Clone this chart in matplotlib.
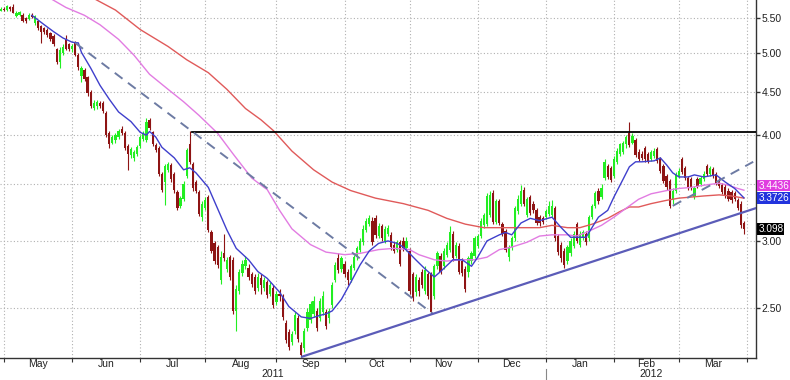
import numpy as np
import pandas as pd
import matplotlib
matplotlib.use('Agg')
import matplotlib.pyplot as plt
from matplotlib.ticker import NullLocator, NullFormatter

plt.rcParams['font.family'] = ['Liberation Sans', 'DejaVu Sans']

# daily candles, one per weekday starting 2011-04-29
opens = [5.61, 5.64, 5.62, 5.66, 5.66, 5.53, 5.55, 5.55, 5.50, 5.49,
         5.55, 5.43, 5.45, 5.38, 5.35, 5.33, 5.28, 5.24, 5.05, 4.88,
         5.00, 5.20, 5.12, 5.05, 5.14, 4.98, 4.70, 4.78, 4.68, 4.50,
         4.31, 4.33, 4.37, 4.37, 4.25, 4.02, 3.92, 3.95, 3.98, 4.07,
         4.02, 3.88, 3.79, 3.76, 3.80, 3.88, 3.96, 3.95, 4.17, 4.03,
         3.89, 3.86, 3.60, 3.52, 3.64, 3.69, 3.60, 3.43, 3.30, 3.36,
         3.58, 3.90, 3.70, 3.52, 3.43, 3.20, 3.28, 3.38, 3.07, 2.98,
         2.95, 2.70, 2.90, 2.78, 2.87, 2.85, 2.48, 2.62, 2.75, 2.80,
         2.79, 2.74, 2.72, 2.64, 2.71, 2.64, 2.68, 2.60, 2.64, 2.54,
         2.60, 2.58, 2.40, 2.34, 2.28, 2.35, 2.43, 2.26, 2.24, 2.37,
         2.42, 2.46, 2.48, 2.43, 2.47, 2.47, 2.43, 2.52, 2.70, 2.86,
         2.78, 2.82, 2.76, 2.70, 2.79, 2.87, 2.93, 2.99, 3.09, 3.14,
         3.17, 3.19, 3.04, 3.12, 3.00, 3.06, 3.05, 2.97, 2.93, 2.99,
         3.00, 2.94, 2.92, 2.74, 2.61, 2.70, 2.76, 2.62, 2.74, 2.74,
         2.58, 2.80, 2.88, 2.80, 2.89, 2.93, 3.06, 2.88, 2.96, 2.84,
         2.78, 2.76, 2.84, 2.88, 2.96, 3.04, 3.13, 3.14, 3.22, 3.42,
         3.16, 3.34, 3.14, 3.08, 2.87, 2.95, 3.02, 3.25, 3.32, 3.45,
         3.22, 3.38, 3.32, 3.26, 3.20, 3.19, 3.20, 3.23, 3.22, 3.28,
         3.04, 2.97, 2.92, 2.84, 2.90, 2.96, 3.14, 2.97, 3.03, 3.06,
         3.02, 3.20, 3.30, 3.44, 3.38, 3.56, 3.68, 3.66, 3.58, 3.72,
         3.80, 3.82, 3.90, 4.02, 3.92, 3.95, 3.82, 3.80, 3.86, 3.80,
         3.75, 3.78, 3.85, 3.75, 3.68, 3.58, 3.53, 3.35, 3.44, 3.58,
         3.75, 3.66, 3.56, 3.55, 3.38, 3.55, 3.50, 3.55, 3.68, 3.60,
         3.65, 3.60, 3.54, 3.49, 3.47, 3.44, 3.43, 3.42, 3.35, 3.32,
         3.15]
highs = [5.66, 5.66, 5.70, 5.68, 5.71, 5.60, 5.61, 5.57, 5.52, 5.57,
         5.57, 5.55, 5.47, 5.40, 5.37, 5.35, 5.30, 5.26, 5.07, 5.08,
         5.12, 5.25, 5.14, 5.12, 5.17, 5.00, 4.83, 4.80, 4.70, 4.52,
         4.40, 4.40, 4.39, 4.39, 4.27, 4.04, 4.00, 4.02, 4.07, 4.10,
         4.04, 3.90, 3.87, 3.84, 3.89, 4.00, 4.05, 4.19, 4.19, 4.05,
         3.92, 3.88, 3.62, 3.70, 3.72, 3.71, 3.62, 3.45, 3.39, 3.53,
         3.86, 4.04, 3.72, 3.54, 3.45, 3.34, 3.38, 3.40, 3.09, 3.00,
         2.97, 2.92, 3.06, 2.87, 2.89, 2.87, 2.66, 2.78, 2.85, 2.88,
         2.82, 2.76, 2.74, 2.75, 2.74, 2.72, 2.70, 2.68, 2.66, 2.62,
         2.63, 2.60, 2.42, 2.36, 2.35, 2.47, 2.45, 2.28, 2.37, 2.50,
         2.55, 2.58, 2.50, 2.57, 2.62, 2.49, 2.50, 2.68, 2.83, 2.90,
         2.88, 2.84, 2.78, 2.82, 2.89, 2.96, 3.02, 3.13, 3.19, 3.22,
         3.20, 3.22, 3.15, 3.14, 3.12, 3.13, 3.07, 2.99, 3.01, 3.01,
         3.03, 3.03, 2.94, 2.76, 2.74, 2.72, 2.78, 2.80, 2.76, 2.76,
         2.82, 2.92, 2.90, 2.94, 2.99, 3.12, 3.08, 2.99, 2.98, 2.86,
         2.80, 2.88, 2.92, 3.04, 3.06, 3.19, 3.24, 3.42, 3.44, 3.45,
         3.36, 3.36, 3.16, 3.10, 2.97, 3.04, 3.30, 3.40, 3.49, 3.47,
         3.38, 3.40, 3.34, 3.28, 3.22, 3.21, 3.27, 3.34, 3.35, 3.30,
         3.06, 2.99, 2.94, 2.97, 3.02, 3.08, 3.16, 3.08, 3.09, 3.08,
         3.22, 3.32, 3.44, 3.46, 3.50, 3.75, 3.70, 3.68, 3.78, 3.86,
         3.92, 3.94, 4.00, 4.14, 4.02, 3.97, 3.85, 3.83, 3.88, 3.82,
         3.84, 3.86, 3.87, 3.77, 3.70, 3.60, 3.55, 3.46, 3.62, 3.66,
         3.77, 3.68, 3.58, 3.57, 3.48, 3.57, 3.58, 3.63, 3.70, 3.68,
         3.67, 3.62, 3.56, 3.51, 3.50, 3.46, 3.45, 3.44, 3.37, 3.34,
         3.17]
lows = [5.60, 5.60, 5.61, 5.61, 5.57, 5.51, 5.53, 5.44, 5.43, 5.47,
        5.50, 5.40, 5.32, 5.14, 5.27, 5.22, 5.17, 5.10, 4.86, 4.80,
        4.98, 5.04, 5.03, 5.02, 4.96, 4.78, 4.62, 4.64, 4.45, 4.31,
        4.28, 4.30, 4.31, 4.25, 3.98, 3.86, 3.90, 3.92, 3.96, 4.00,
        3.84, 3.64, 3.76, 3.73, 3.78, 3.86, 3.94, 3.93, 4.06, 3.88,
        3.82, 3.58, 3.43, 3.31, 3.62, 3.52, 3.42, 3.26, 3.28, 3.34,
        3.56, 3.70, 3.44, 3.42, 3.21, 3.17, 3.26, 3.07, 2.90, 2.82,
        2.79, 2.67, 2.84, 2.76, 2.70, 2.46, 2.35, 2.60, 2.73, 2.78,
        2.70, 2.65, 2.60, 2.62, 2.60, 2.62, 2.57, 2.58, 2.50, 2.52,
        2.55, 2.42, 2.27, 2.23, 2.26, 2.33, 2.28, 2.19, 2.22, 2.35,
        2.40, 2.44, 2.35, 2.41, 2.45, 2.36, 2.40, 2.50, 2.68, 2.75,
        2.76, 2.72, 2.66, 2.68, 2.77, 2.85, 2.91, 2.97, 3.07, 3.12,
        2.97, 3.02, 3.02, 3.00, 2.98, 3.04, 2.93, 2.90, 2.91, 2.80,
        2.92, 2.92, 2.60, 2.55, 2.58, 2.58, 2.64, 2.60, 2.56, 2.46,
        2.56, 2.78, 2.74, 2.78, 2.87, 2.91, 2.84, 2.86, 2.74, 2.73,
        2.61, 2.72, 2.82, 2.86, 2.94, 3.02, 3.11, 3.12, 3.20, 3.14,
        3.14, 3.13, 3.04, 2.91, 2.84, 2.93, 3.00, 3.23, 3.30, 3.30,
        3.20, 3.22, 3.24, 3.13, 3.12, 3.14, 3.18, 3.21, 3.20, 3.00,
        2.89, 2.83, 2.79, 2.82, 2.88, 2.94, 2.98, 2.95, 3.01, 2.97,
        3.00, 3.18, 3.28, 3.32, 3.36, 3.54, 3.55, 3.52, 3.56, 3.70,
        3.78, 3.80, 3.86, 3.87, 3.90, 3.77, 3.73, 3.74, 3.72, 3.71,
        3.73, 3.76, 3.71, 3.61, 3.51, 3.45, 3.28, 3.32, 3.42, 3.56,
        3.60, 3.54, 3.45, 3.45, 3.36, 3.46, 3.48, 3.53, 3.58, 3.58,
        3.56, 3.49, 3.46, 3.41, 3.37, 3.34, 3.33, 3.34, 3.26, 3.11,
        3.06]
closes = [5.64, 5.62, 5.68, 5.63, 5.58, 5.58, 5.59, 5.46, 5.45, 5.55,
          5.52, 5.53, 5.35, 5.30, 5.30, 5.25, 5.19, 5.12, 4.88, 5.04,
          5.08, 5.06, 5.06, 5.10, 4.98, 4.82, 4.80, 4.66, 4.48, 4.33,
          4.37, 4.38, 4.33, 4.27, 4.00, 3.90, 3.98, 4.00, 4.05, 4.02,
          3.86, 3.80, 3.85, 3.82, 3.87, 3.98, 4.02, 4.15, 4.08, 3.90,
          3.84, 3.60, 3.45, 3.68, 3.70, 3.55, 3.45, 3.28, 3.37, 3.50,
          3.84, 3.72, 3.46, 3.44, 3.23, 3.32, 3.35, 3.09, 2.92, 2.84,
          2.81, 2.87, 2.86, 2.85, 2.72, 2.48, 2.63, 2.76, 2.82, 2.85,
          2.72, 2.67, 2.62, 2.72, 2.66, 2.70, 2.59, 2.66, 2.52, 2.60,
          2.58, 2.44, 2.29, 2.25, 2.33, 2.45, 2.30, 2.20, 2.35, 2.47,
          2.53, 2.55, 2.37, 2.55, 2.58, 2.38, 2.48, 2.66, 2.81, 2.77,
          2.86, 2.74, 2.70, 2.80, 2.87, 2.94, 3.00, 3.10, 3.17, 3.19,
          2.99, 3.05, 3.12, 3.02, 3.10, 3.11, 2.95, 2.92, 2.99, 2.82,
          2.94, 3.00, 2.62, 2.57, 2.72, 2.62, 2.66, 2.77, 2.58, 2.47,
          2.80, 2.90, 2.76, 2.92, 2.97, 3.07, 2.86, 2.97, 2.76, 2.75,
          2.63, 2.86, 2.90, 3.02, 3.04, 3.17, 3.22, 3.39, 3.40, 3.16,
          3.34, 3.15, 3.06, 2.93, 2.95, 3.02, 3.28, 3.36, 3.44, 3.32,
          3.36, 3.24, 3.26, 3.15, 3.15, 3.16, 3.25, 3.30, 3.30, 3.02,
          2.91, 2.86, 2.81, 2.95, 3.00, 3.06, 3.00, 3.06, 3.07, 2.99,
          3.20, 3.30, 3.42, 3.34, 3.46, 3.72, 3.57, 3.54, 3.75, 3.83,
          3.90, 3.91, 3.98, 3.89, 3.99, 3.79, 3.75, 3.76, 3.75, 3.73,
          3.82, 3.83, 3.73, 3.63, 3.53, 3.47, 3.30, 3.44, 3.60, 3.63,
          3.62, 3.56, 3.47, 3.47, 3.46, 3.48, 3.56, 3.60, 3.60, 3.66,
          3.58, 3.51, 3.48, 3.43, 3.39, 3.36, 3.35, 3.36, 3.28, 3.13,
          3.098]

# moving averages (day index, value)
ma_blue_idx = [10, 14, 17, 20, 23, 25, 26, 29, 32, 35, 38, 42, 45, 47, 48, 50,
               52, 56, 59, 61, 63, 67, 73, 76, 80, 83, 86, 90, 93, 97, 100,
               103, 105, 107, 110, 113, 116, 119, 122, 125, 128, 130, 134, 137,
               140, 142, 146, 149, 152, 154, 157, 161, 163, 165, 168, 171, 174,
               178, 181, 184, 189, 193, 196, 198, 201, 203, 205, 207, 211, 213,
               215, 217, 219, 222, 224, 227, 231, 234, 237, 240]
ma_blue_val = [5.54, 5.40, 5.30, 5.21, 5.15, 5.14, 5.01, 4.80, 4.58, 4.41,
               4.26, 4.15, 4.03, 4.00, 4.04, 3.98, 3.87, 3.76, 3.64, 3.66,
               3.61, 3.47, 3.09, 2.94, 2.85, 2.76, 2.71, 2.61, 2.51, 2.44,
               2.43, 2.45, 2.46, 2.48, 2.56, 2.68, 2.81, 2.92, 2.98, 3.00,
               2.98, 2.95, 2.85, 2.78, 2.72, 2.76, 2.85, 2.85, 2.80, 2.87,
               3.00, 3.05, 3.07, 3.05, 3.15, 3.19, 3.17, 3.20, 3.11, 3.03,
               3.03, 3.20, 3.26, 3.38, 3.55, 3.67, 3.72, 3.72, 3.73, 3.76,
               3.69, 3.61, 3.57, 3.57, 3.59, 3.57, 3.59, 3.52, 3.46, 3.3726]
ma_pink_idx = [16, 21, 27, 32, 38, 43, 48, 54, 59, 64, 70, 75, 81, 85, 86, 90,
               94, 100, 105, 111, 116, 122, 127, 132, 135, 140, 144, 148, 153,
               157, 161, 165, 170, 174, 178, 183, 186, 189, 194, 198, 202, 206,
               210, 215, 219, 223, 227, 232, 235, 238, 240]
ma_pink_val = [5.80, 5.66, 5.54, 5.40, 5.19, 4.97, 4.72, 4.53, 4.38, 4.22,
               4.02, 3.80, 3.56, 3.47, 3.45, 3.26, 3.10, 2.97, 2.91, 2.89,
               2.90, 2.93, 2.94, 2.93, 2.89, 2.85, 2.84, 2.85, 2.85, 2.87,
               2.93, 2.95, 2.99, 3.04, 3.05, 3.05, 3.04, 3.07, 3.13, 3.20,
               3.28, 3.36, 3.41, 3.44, 3.46, 3.47, 3.49, 3.51, 3.49, 3.46,
               3.4436]
ma_red_idx = [30, 37, 45, 54, 60, 67, 73, 79, 84, 88, 94, 101, 107, 113, 121,
              130, 138, 144, 150, 156, 163, 168, 174, 178, 183, 187, 191, 196,
              200, 203, 206, 210, 215, 219, 223, 227, 232, 236, 240]
ma_red_val = [5.80, 5.62, 5.33, 5.09, 4.91, 4.74, 4.53, 4.30, 4.17, 4.05,
              3.83, 3.64, 3.52, 3.44, 3.37, 3.32, 3.26, 3.19, 3.14, 3.11,
              3.11, 3.11, 3.11, 3.13, 3.11, 3.11, 3.14, 3.19, 3.25, 3.29,
              3.29, 3.32, 3.35, 3.37, 3.38, 3.39, 3.40, 3.39, 3.37]

# hand drawn trend lines (day index, value)
resist_idx, resist_val = [61.7, 243.9], [4.035, 4.035]
down_idx, down_val = [24, 139.6], [5.14, 2.46]
support_idx, support_val = [97.3, 243.9], [2.19, 3.28]
up_idx, up_val = [217, 243], [3.30, 3.72]

month_names = ['May', 'Jun', 'Jul', 'Aug', 'Sep', 'Oct', 'Nov', 'Dec',
               'Jan', 'Feb', 'Mar']
year_names = ['2011', '2012']
y_ticks = [2.5, 3.0, 3.5, 4.0, 4.5, 5.0, 5.5]
# last values, tag position (nudged so tags stack) and colour
last_labels = [(3.487, '3.4436', '#e03ce0'), (3.3726, '3.3726', '#2233dd'),
               (3.098, '3.098', 'black')]

o = np.array(opens); h = np.array(highs); l = np.array(lows); c = np.array(closes)
idx = np.arange(len(c))
days = pd.bdate_range('2011-04-29', '2012-04-06')
firsts = [i for i in range(1, len(days)) if days[i].month != days[i - 1].month]

fig = plt.figure(figsize=(7.9, 3.8), dpi=100)
ax = fig.add_axes([0, 22 / 380, 756 / 790, 358 / 380])
ax.set_yscale('log')
ax.set_ylim(2.182, 5.776)
ax.set_xlim(-0.3, 243.9)

green = '#22ee22'
red = '#8e1414'
cols = np.where(c >= o, green, red)
ax.vlines(idx, l, h, colors=cols, lw=0.8, zorder=3)
ax.bar(idx, np.maximum(np.abs(c - o), 0.008), bottom=np.minimum(o, c),
       width=0.72, color=cols, linewidth=0, zorder=3)

ax.plot(ma_red_idx, ma_red_val, color='#e05a5a', lw=1.0, zorder=4)
ax.plot(ma_pink_idx, ma_pink_val, color='#e27ce2', lw=1.0, zorder=4)
ax.plot(ma_blue_idx, ma_blue_val, color='#3f3fcc', lw=1.0, zorder=4)

ax.plot(resist_idx, resist_val, color='black', lw=1.3, zorder=5)
ax.plot(down_idx, down_val, color='#6d7ba3', lw=1.4, dashes=(5, 3.5), zorder=5)
ax.plot(up_idx, up_val, color='#6d7ba3', lw=1.4, dashes=(5, 3.5), zorder=5)
ax.plot(support_idx, support_val, color='#5b5cb8', lw=1.6, zorder=5)

# axes styling
for s in ['left', 'top']:
    ax.spines[s].set_visible(False)
for s in ['right', 'bottom']:
    ax.spines[s].set_color('#333333')
    ax.spines[s].set_linewidth(1.0)

ax.yaxis.tick_right()
ax.set_yticks(y_ticks)
ax.set_yticklabels(['%.2f' % v for v in y_ticks])
ax.yaxis.set_minor_locator(NullLocator())
ax.yaxis.set_minor_formatter(NullFormatter())
ax.tick_params(axis='y', direction='out', length=3, width=1, color='#333333',
               labelsize=7.5, pad=1, labelcolor='#222222')
ax.set_xticks(firsts)
ax.set_xticklabels([])
ax.tick_params(axis='x', direction='out', length=3, width=0.8, color='#333333')
ax.grid(True, color='#b0b0b0', linestyle=(0, (1, 2)), linewidth=0.8)
ax.set_axisbelow(True)

xtr = ax.get_xaxis_transform()
for k, name in enumerate(month_names):
    mid = (firsts[k] + firsts[k + 1]) / 2
    ax.text(mid, -0.017, name, transform=xtr, ha='center', va='center',
            fontsize=7.5, color='#222222')
jan = firsts[8]
ax.text((ax.get_xlim()[0] + jan) / 2, -0.044, year_names[0], transform=xtr,
        ha='center', va='center', fontsize=7.5, color='#222222')
ax.text((jan + ax.get_xlim()[1]) / 2, -0.044, year_names[1], transform=xtr,
        ha='center', va='center', fontsize=7.5, color='#222222')
ax.plot([jan, jan], [-0.03, -0.06], transform=xtr, color='#888888', lw=0.8,
        clip_on=False)

ytr = ax.get_yaxis_transform()
for val, txt, bg in last_labels:
    ax.text(1.003, val, txt, transform=ytr, ha='left', va='center',
            color='white', fontsize=7.2,
            bbox=dict(boxstyle='square,pad=0.08', fc=bg, ec='none'),
            clip_on=False, zorder=6)

fig.savefig('out.png', dpi=100)
